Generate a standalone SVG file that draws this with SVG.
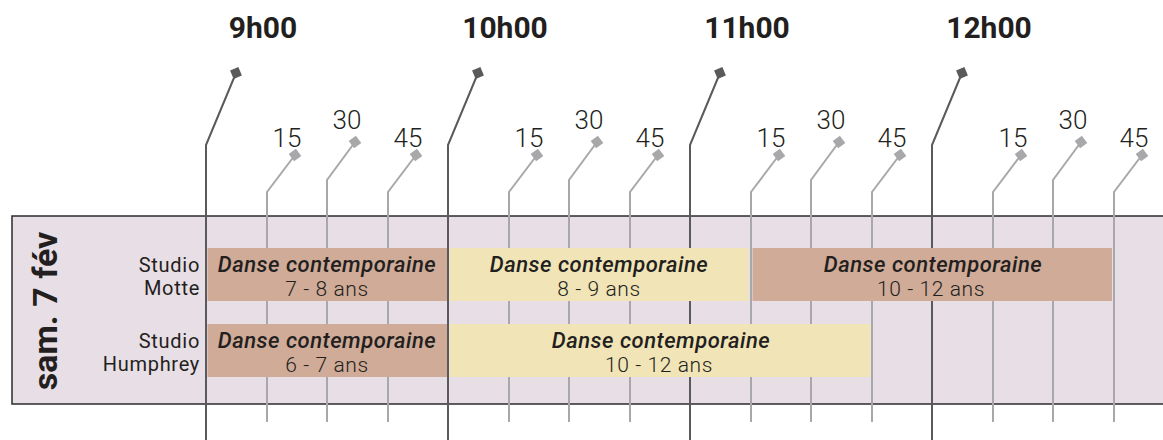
<svg xmlns="http://www.w3.org/2000/svg" width="1163" height="440" viewBox="0 0 1163 440">
<style>
.hour{stroke:#5a5a5c;stroke-width:2;fill:none}
.quarter{stroke:#a8a8ab;stroke-width:2;fill:none}
.hm{fill:#5a5a5c}
.qm{fill:#a8a8ab}
.hlab{font-family:Roboto,"Liberation Sans",sans-serif;font-weight:700;font-size:30px;fill:#231f20;text-anchor:middle}
.qlab{font-family:Roboto,"Liberation Sans",sans-serif;font-weight:300;font-size:26px;fill:#231f20;text-anchor:middle}
.band{fill:#e8dee6;stroke:#2b2b2b;stroke-width:1.5}
.brown{fill:#cfab98}
.yellow{fill:#f1e5b7}
.title{font-family:Roboto,"Liberation Sans",sans-serif;font-style:italic;font-weight:500;font-size:22px;letter-spacing:0.5px;fill:#231f20;text-anchor:middle}
.sub{font-family:Roboto,"Liberation Sans",sans-serif;font-weight:300;font-size:21px;letter-spacing:0.6px;fill:#231f20;text-anchor:middle}
.studio{font-family:Roboto,"Liberation Sans",sans-serif;font-weight:400;font-size:20px;letter-spacing:0.7px;fill:#231f20;text-anchor:end}
.day{font-family:Roboto,"Liberation Sans",sans-serif;font-weight:700;font-size:34px;fill:#231f20;text-anchor:middle}
</style>
<defs>
<rect id="hsq" x="-4.5" y="-4.5" width="9" height="9" class="hm"/>
<rect id="qsq" x="-4.5" y="-4.5" width="9" height="9" class="qm"/>
</defs>
<rect id="band" class="band" x="12" y="216" width="1160" height="188"/>
<g id="connectors">
<path class="hour" d="M206,440V145L236,73"/>
<path class="hour" d="M448,440V145L478,73"/>
<path class="hour" d="M690,440V145L720,73"/>
<path class="hour" d="M932,440V145L962,73"/>
<path class="quarter" d="M267,422V192L295,155"/>
<path class="quarter" d="M327,422V180L355,142"/>
<path class="quarter" d="M388,422V192L416,155"/>
<path class="quarter" d="M509,422V192L537,155"/>
<path class="quarter" d="M569,422V180L597,142"/>
<path class="quarter" d="M630,422V192L658,155"/>
<path class="quarter" d="M751,422V192L779,155"/>
<path class="quarter" d="M811,422V180L839,142"/>
<path class="quarter" d="M872,422V192L900,155"/>
<path class="quarter" d="M993,422V192L1021,155"/>
<path class="quarter" d="M1053,422V180L1081,142"/>
<path class="quarter" d="M1114,422V192L1142,155"/>
</g>
<g id="markers">
<use href="#hsq" transform="translate(236,73) rotate(-23)"/>
<use href="#hsq" transform="translate(478,73) rotate(-23)"/>
<use href="#hsq" transform="translate(720,73) rotate(-23)"/>
<use href="#hsq" transform="translate(962,73) rotate(-23)"/>
<use href="#qsq" transform="translate(295,155) rotate(-37)"/>
<use href="#qsq" transform="translate(355,142) rotate(-37)"/>
<use href="#qsq" transform="translate(416,155) rotate(-37)"/>
<use href="#qsq" transform="translate(537,155) rotate(-37)"/>
<use href="#qsq" transform="translate(597,142) rotate(-37)"/>
<use href="#qsq" transform="translate(658,155) rotate(-37)"/>
<use href="#qsq" transform="translate(779,155) rotate(-37)"/>
<use href="#qsq" transform="translate(839,142) rotate(-37)"/>
<use href="#qsq" transform="translate(900,155) rotate(-37)"/>
<use href="#qsq" transform="translate(1021,155) rotate(-37)"/>
<use href="#qsq" transform="translate(1081,142) rotate(-37)"/>
<use href="#qsq" transform="translate(1142,155) rotate(-37)"/>
</g>
<g id="hour-labels">
<text class="hlab" x="263" y="38">9h00</text>
<text class="hlab" x="505" y="38">10h00</text>
<text class="hlab" x="747" y="38">11h00</text>
<text class="hlab" x="989" y="38">12h00</text>
</g>
<g id="quarter-labels">
<text class="qlab" x="287" y="147">15</text>
<text class="qlab" x="347" y="129">30</text>
<text class="qlab" x="408" y="147">45</text>
<text class="qlab" x="529" y="147">15</text>
<text class="qlab" x="589" y="129">30</text>
<text class="qlab" x="650" y="147">45</text>
<text class="qlab" x="771" y="147">15</text>
<text class="qlab" x="831" y="129">30</text>
<text class="qlab" x="892" y="147">45</text>
<text class="qlab" x="1013" y="147">15</text>
<text class="qlab" x="1073" y="129">30</text>
<text class="qlab" x="1134" y="147">45</text>
</g>
<g id="day">
<text class="day" transform="translate(57,311) rotate(-90)">sam. 7 fév</text>
</g>
<g id="studio-motte">
<text class="studio" x="200" y="272">Studio</text>
<text class="studio" x="200" y="294.5">Motte</text>
</g>
<g id="studio-humphrey">
<text class="studio" x="200" y="348">Studio</text>
<text class="studio" x="200" y="370.5">Humphrey</text>
</g>
<g id="motte-1">
<rect class="brown" x="207.5" y="248" width="239.5" height="53"/>
<text class="title" x="327" y="272">Danse contemporaine</text>
<text class="sub" x="327" y="296">7 - 8 ans</text>
</g>
<g id="motte-2">
<rect class="yellow" x="449.5" y="248" width="299" height="53"/>
<text class="title" x="599" y="272">Danse contemporaine</text>
<text class="sub" x="599" y="296">8 - 9 ans</text>
</g>
<g id="motte-3">
<rect class="brown" x="752.5" y="248" width="359.5" height="53"/>
<text class="title" x="933" y="272">Danse contemporaine</text>
<text class="sub" x="931" y="296">10 - 12 ans</text>
</g>
<g id="humphrey-1">
<rect class="brown" x="207.5" y="324" width="239.5" height="53"/>
<text class="title" x="327" y="348">Danse contemporaine</text>
<text class="sub" x="327" y="372">6 - 7 ans</text>
</g>
<g id="humphrey-2">
<rect class="yellow" x="449.5" y="324" width="421" height="53"/>
<text class="title" x="661" y="348">Danse contemporaine</text>
<text class="sub" x="659" y="372">10 - 12 ans</text>
</g>
</svg>
